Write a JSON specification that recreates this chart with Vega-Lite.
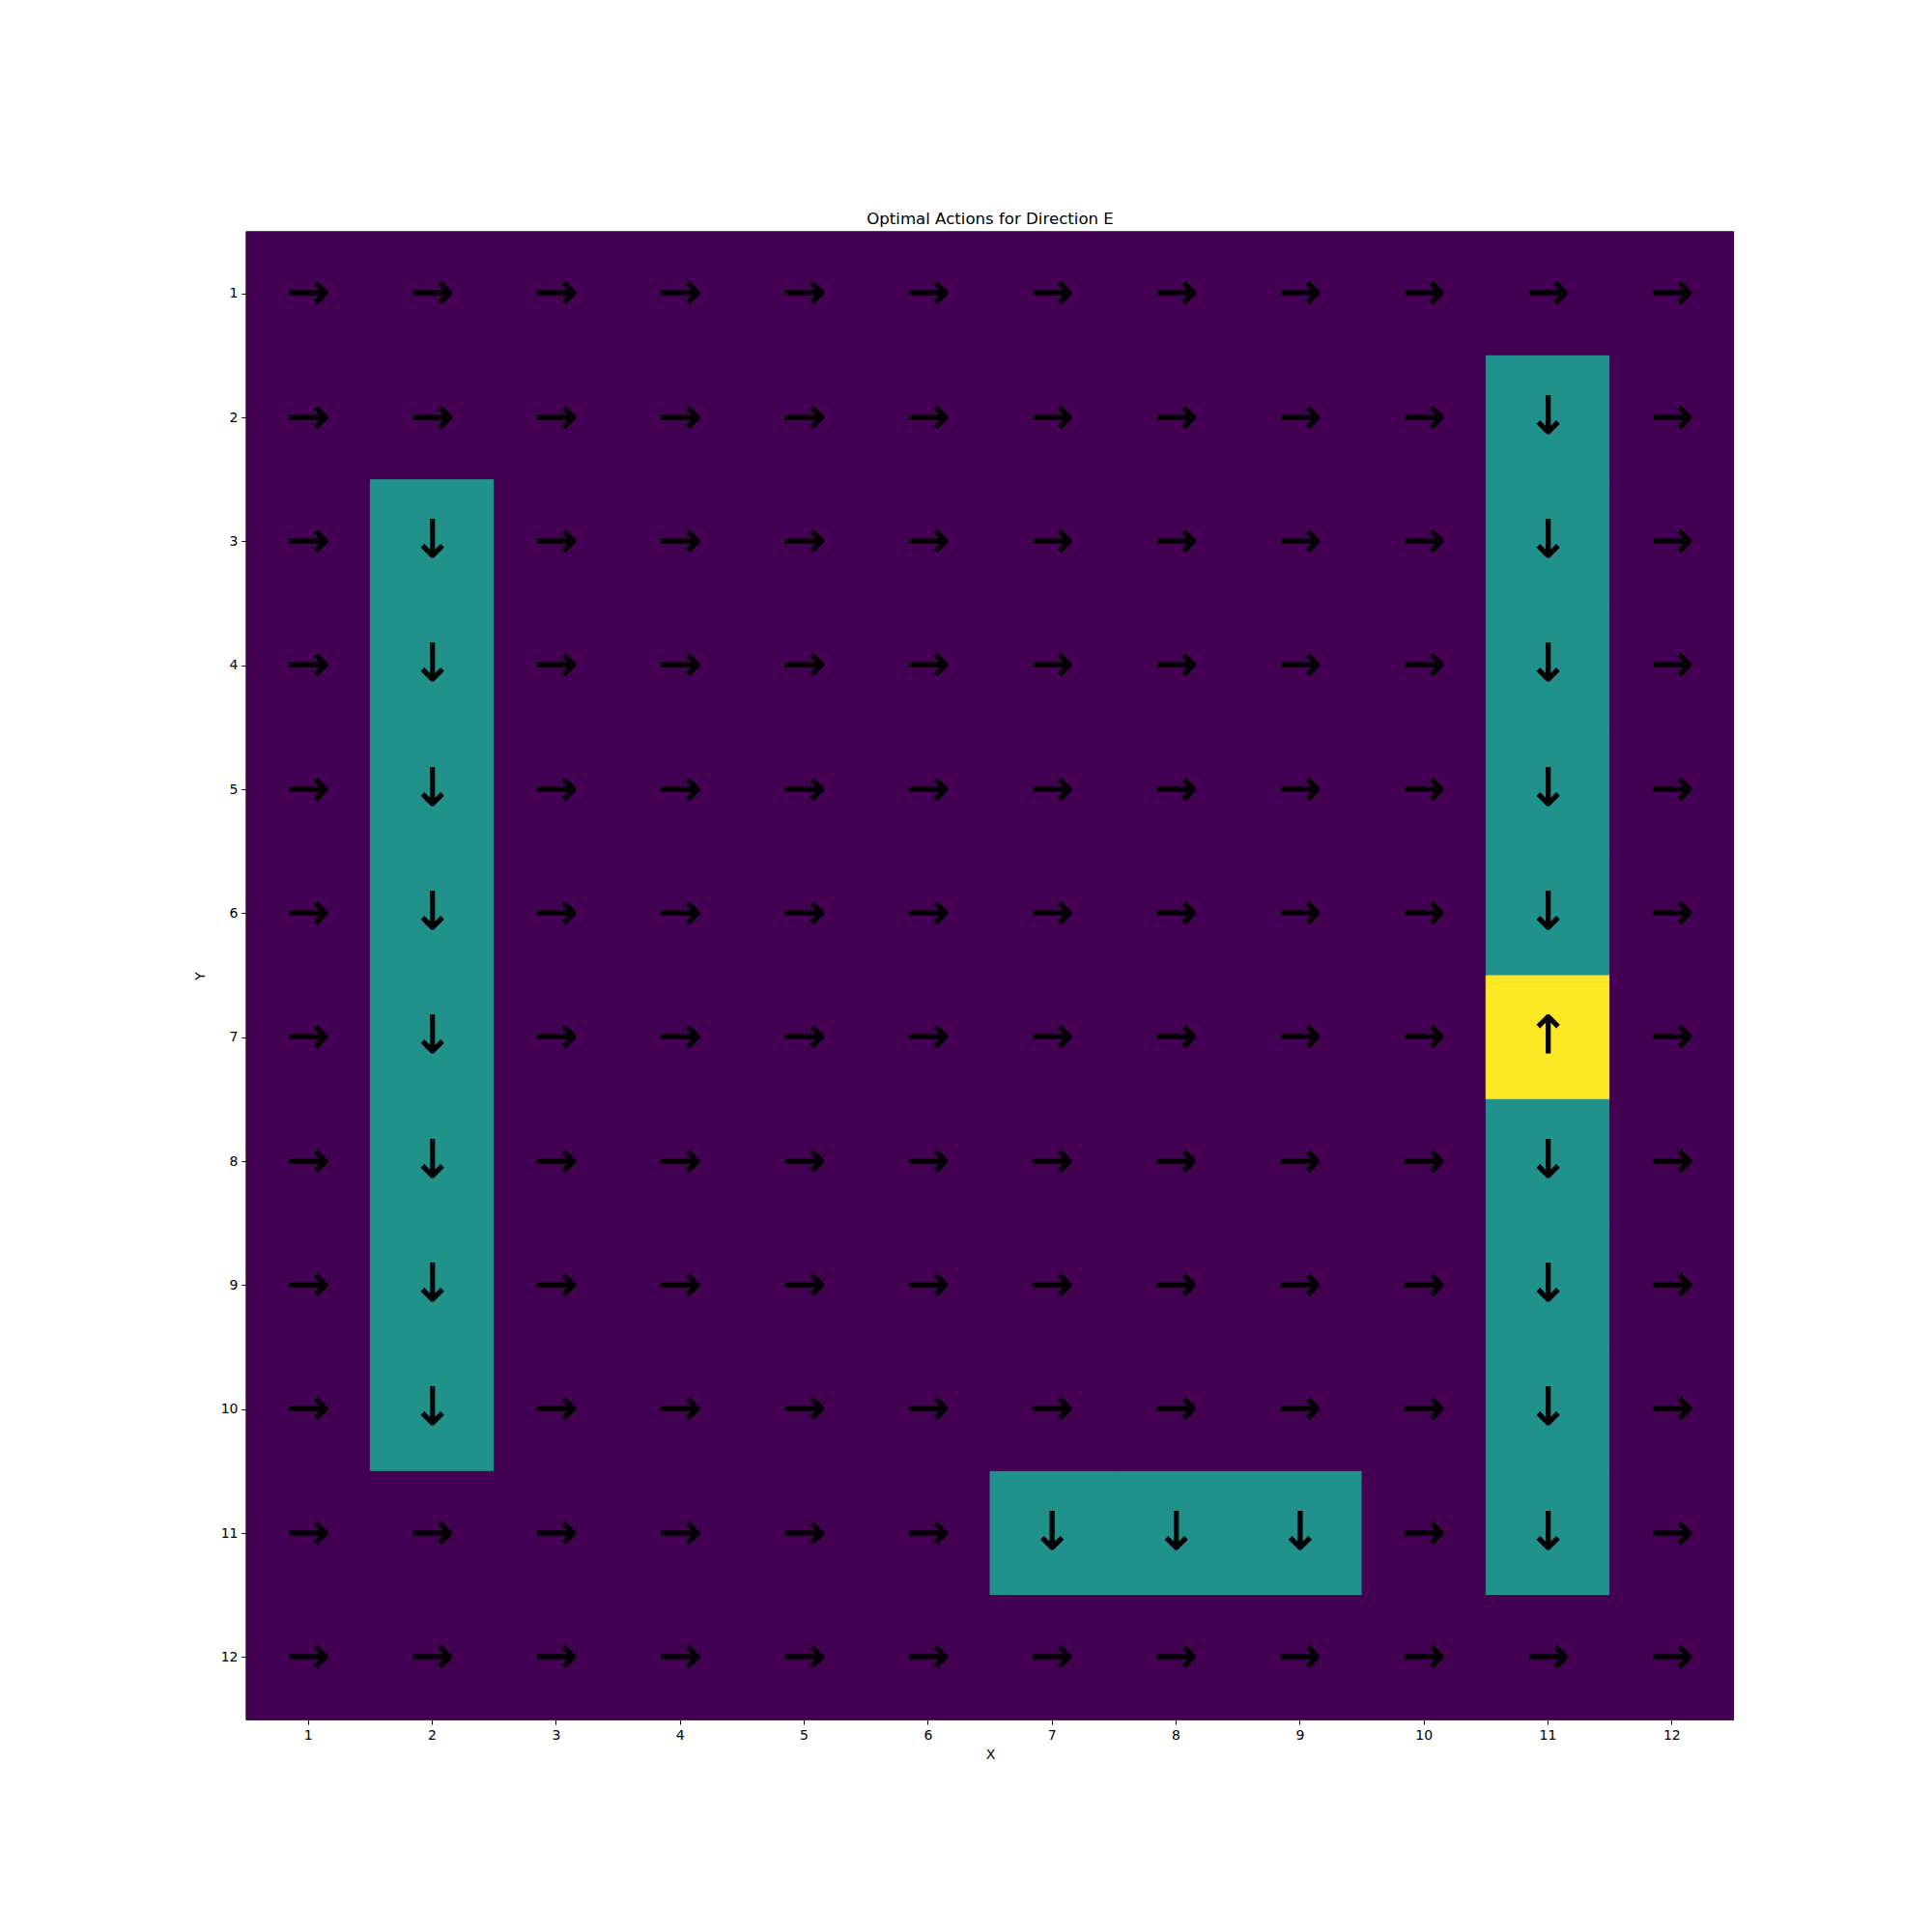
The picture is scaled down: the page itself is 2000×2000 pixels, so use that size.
{
  "$schema": "https://vega.github.io/schema/vega-lite/v6.json",
  "autosize": {"type": "none"},
  "padding": {"left": 255, "top": 240, "right": 0, "bottom": 60},
  "width": 1540,
  "height": 1540,
  "background": "white",
  "config": {
    "font": "DejaVu Sans",
    "view": {"stroke": "black", "strokeWidth": 1.3},
    "axis": {"domain": false, "grid": false, "tickColor": "black", "tickSize": 5, "tickWidth": 1, "labelColor": "black", "labelFontSize": 14, "labelFont": "DejaVu Sans", "titleFont": "DejaVu Sans", "titleFontSize": 14, "titleFontWeight": "normal", "titleColor": "black", "labelPadding": 4}
  },
  "title": {"text": "Optimal Actions for Direction E", "fontSize": 16.6, "fontWeight": "normal", "font": "DejaVu Sans", "color": "black", "offset": 4},
  "data": {"values": [
    {"x":1,"y":1,"a":"→"},{"x":2,"y":1,"a":"→"},{"x":3,"y":1,"a":"→"},{"x":4,"y":1,"a":"→"},{"x":5,"y":1,"a":"→"},{"x":6,"y":1,"a":"→"},{"x":7,"y":1,"a":"→"},{"x":8,"y":1,"a":"→"},{"x":9,"y":1,"a":"→"},{"x":10,"y":1,"a":"→"},{"x":11,"y":1,"a":"→"},{"x":12,"y":1,"a":"→"},
    {"x":1,"y":2,"a":"→"},{"x":2,"y":2,"a":"→"},{"x":3,"y":2,"a":"→"},{"x":4,"y":2,"a":"→"},{"x":5,"y":2,"a":"→"},{"x":6,"y":2,"a":"→"},{"x":7,"y":2,"a":"→"},{"x":8,"y":2,"a":"→"},{"x":9,"y":2,"a":"→"},{"x":10,"y":2,"a":"→"},{"x":11,"y":2,"a":"↓"},{"x":12,"y":2,"a":"→"},
    {"x":1,"y":3,"a":"→"},{"x":2,"y":3,"a":"↓"},{"x":3,"y":3,"a":"→"},{"x":4,"y":3,"a":"→"},{"x":5,"y":3,"a":"→"},{"x":6,"y":3,"a":"→"},{"x":7,"y":3,"a":"→"},{"x":8,"y":3,"a":"→"},{"x":9,"y":3,"a":"→"},{"x":10,"y":3,"a":"→"},{"x":11,"y":3,"a":"↓"},{"x":12,"y":3,"a":"→"},
    {"x":1,"y":4,"a":"→"},{"x":2,"y":4,"a":"↓"},{"x":3,"y":4,"a":"→"},{"x":4,"y":4,"a":"→"},{"x":5,"y":4,"a":"→"},{"x":6,"y":4,"a":"→"},{"x":7,"y":4,"a":"→"},{"x":8,"y":4,"a":"→"},{"x":9,"y":4,"a":"→"},{"x":10,"y":4,"a":"→"},{"x":11,"y":4,"a":"↓"},{"x":12,"y":4,"a":"→"},
    {"x":1,"y":5,"a":"→"},{"x":2,"y":5,"a":"↓"},{"x":3,"y":5,"a":"→"},{"x":4,"y":5,"a":"→"},{"x":5,"y":5,"a":"→"},{"x":6,"y":5,"a":"→"},{"x":7,"y":5,"a":"→"},{"x":8,"y":5,"a":"→"},{"x":9,"y":5,"a":"→"},{"x":10,"y":5,"a":"→"},{"x":11,"y":5,"a":"↓"},{"x":12,"y":5,"a":"→"},
    {"x":1,"y":6,"a":"→"},{"x":2,"y":6,"a":"↓"},{"x":3,"y":6,"a":"→"},{"x":4,"y":6,"a":"→"},{"x":5,"y":6,"a":"→"},{"x":6,"y":6,"a":"→"},{"x":7,"y":6,"a":"→"},{"x":8,"y":6,"a":"→"},{"x":9,"y":6,"a":"→"},{"x":10,"y":6,"a":"→"},{"x":11,"y":6,"a":"↓"},{"x":12,"y":6,"a":"→"},
    {"x":1,"y":7,"a":"→"},{"x":2,"y":7,"a":"↓"},{"x":3,"y":7,"a":"→"},{"x":4,"y":7,"a":"→"},{"x":5,"y":7,"a":"→"},{"x":6,"y":7,"a":"→"},{"x":7,"y":7,"a":"→"},{"x":8,"y":7,"a":"→"},{"x":9,"y":7,"a":"→"},{"x":10,"y":7,"a":"→"},{"x":11,"y":7,"a":"↑"},{"x":12,"y":7,"a":"→"},
    {"x":1,"y":8,"a":"→"},{"x":2,"y":8,"a":"↓"},{"x":3,"y":8,"a":"→"},{"x":4,"y":8,"a":"→"},{"x":5,"y":8,"a":"→"},{"x":6,"y":8,"a":"→"},{"x":7,"y":8,"a":"→"},{"x":8,"y":8,"a":"→"},{"x":9,"y":8,"a":"→"},{"x":10,"y":8,"a":"→"},{"x":11,"y":8,"a":"↓"},{"x":12,"y":8,"a":"→"},
    {"x":1,"y":9,"a":"→"},{"x":2,"y":9,"a":"↓"},{"x":3,"y":9,"a":"→"},{"x":4,"y":9,"a":"→"},{"x":5,"y":9,"a":"→"},{"x":6,"y":9,"a":"→"},{"x":7,"y":9,"a":"→"},{"x":8,"y":9,"a":"→"},{"x":9,"y":9,"a":"→"},{"x":10,"y":9,"a":"→"},{"x":11,"y":9,"a":"↓"},{"x":12,"y":9,"a":"→"},
    {"x":1,"y":10,"a":"→"},{"x":2,"y":10,"a":"↓"},{"x":3,"y":10,"a":"→"},{"x":4,"y":10,"a":"→"},{"x":5,"y":10,"a":"→"},{"x":6,"y":10,"a":"→"},{"x":7,"y":10,"a":"→"},{"x":8,"y":10,"a":"→"},{"x":9,"y":10,"a":"→"},{"x":10,"y":10,"a":"→"},{"x":11,"y":10,"a":"↓"},{"x":12,"y":10,"a":"→"},
    {"x":1,"y":11,"a":"→"},{"x":2,"y":11,"a":"→"},{"x":3,"y":11,"a":"→"},{"x":4,"y":11,"a":"→"},{"x":5,"y":11,"a":"→"},{"x":6,"y":11,"a":"→"},{"x":7,"y":11,"a":"↓"},{"x":8,"y":11,"a":"↓"},{"x":9,"y":11,"a":"↓"},{"x":10,"y":11,"a":"→"},{"x":11,"y":11,"a":"↓"},{"x":12,"y":11,"a":"→"},
    {"x":1,"y":12,"a":"→"},{"x":2,"y":12,"a":"→"},{"x":3,"y":12,"a":"→"},{"x":4,"y":12,"a":"→"},{"x":5,"y":12,"a":"→"},{"x":6,"y":12,"a":"→"},{"x":7,"y":12,"a":"→"},{"x":8,"y":12,"a":"→"},{"x":9,"y":12,"a":"→"},{"x":10,"y":12,"a":"→"},{"x":11,"y":12,"a":"→"},{"x":12,"y":12,"a":"→"}
  ]},
  "encoding": {
    "x": {"field": "x", "type": "ordinal", "title": "X", "scale": {"paddingInner": 0, "paddingOuter": 0}, "axis": {"labelAngle": 0, "titlePadding": 6}},
    "y": {"field": "y", "type": "ordinal", "title": "Y", "scale": {"paddingInner": 0, "paddingOuter": 0}, "axis": {"titlePadding": 14}}
  },
  "layer": [
    {
      "mark": {"type": "rect", "strokeWidth": 1},
      "encoding": {
        "color": {"field": "a", "type": "nominal", "scale": {"domain": ["→", "↓", "↑"], "range": ["#440154", "#21918c", "#fde725"]}, "legend": null},
        "stroke": {"field": "a", "type": "nominal", "scale": {"domain": ["→", "↓", "↑"], "range": ["#440154", "#21918c", "#fde725"]}, "legend": null}
      }
    },
    {
      "mark": {"type": "text", "font": "DejaVu Sans", "fontSize": 54, "color": "black", "baseline": "middle", "align": "center", "stroke": "black", "strokeWidth": 0.8},
      "encoding": {"text": {"field": "a", "type": "nominal"}}
    }
  ]
}
